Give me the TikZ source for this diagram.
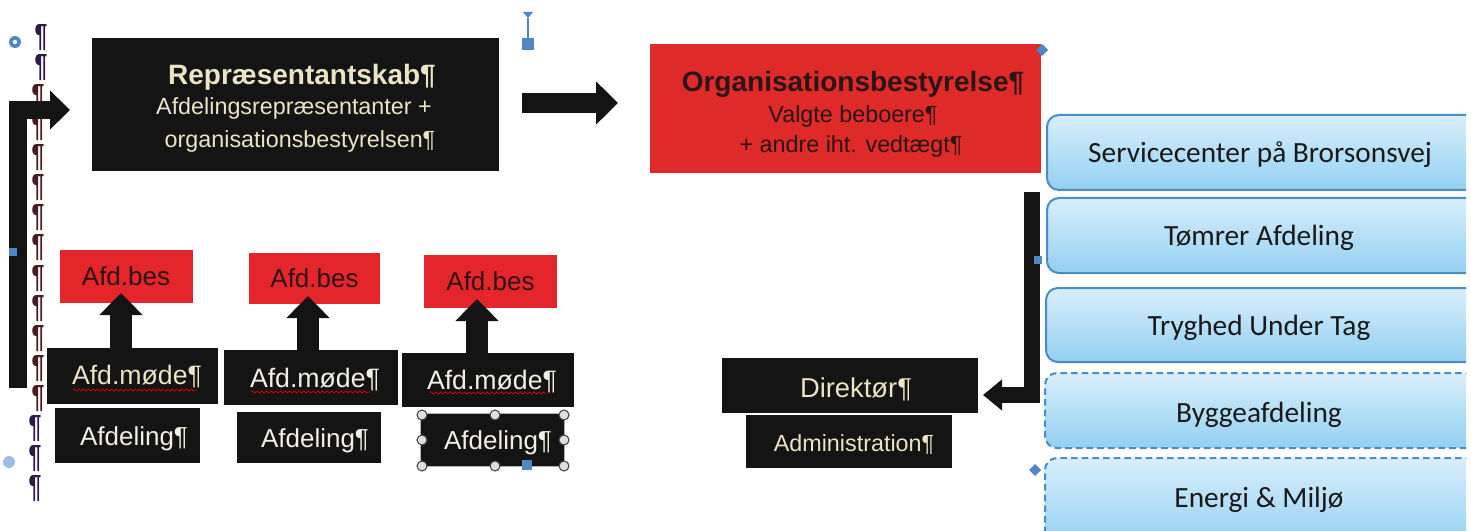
\documentclass[tikz,border=0pt]{standalone}
\usepackage{fontspec}
\setmainfont{Liberation Sans}
\newfontfamily\calibri{Carlito}
\usetikzlibrary{arrows.meta,fit,decorations.pathmorphing,calc}
\definecolor{boxblack}{HTML}{141414}
\definecolor{cream}{HTML}{EAE3C5}
\definecolor{offwhite}{HTML}{F2EFE6}
\definecolor{orgred}{HTML}{DF2A2A}
\definecolor{besred}{HTML}{E4262C}
\definecolor{redtext}{HTML}{2B1414}
\definecolor{blueline}{HTML}{4A8CC8}
\definecolor{bluetop}{HTML}{D9EFFB}
\definecolor{bluebot}{HTML}{93D0F1}
\definecolor{pilpurple}{HTML}{2D1B46}
\definecolor{pilbrown}{HTML}{4A1C22}
\definecolor{marker}{HTML}{4F86C6}
\begin{document}
\begin{tikzpicture}[x=0.75pt,y=-0.75pt,
  box/.style={inner sep=0pt, outer sep=0pt},
  blackbox/.style={box, fill=boxblack},
  besbox/.style={box, fill=besred},
  orgbox/.style={box, fill=orgred},
  bluebox/.style={box, draw=blueline, line width=1.5pt, rounded corners=9pt, top color=bluetop, bottom color=bluebot},
  dashedbluebox/.style={bluebox, dash pattern=on 5pt off 3pt},
  lbl/.style={anchor=base, inner sep=0pt, outer sep=0pt},
  titlefont/.style={font=\fontsize{21}{25}\selectfont\bfseries},
  subfont/.style={font=\fontsize{17.5}{21}\selectfont},
  smallfont/.style={font=\fontsize{19.5}{23}\selectfont},
  bluefont/.style={font=\calibri\fontsize{22}{26}\selectfont, text=black!90},
  pil/.style={anchor=base, inner sep=0pt, font=\fontsize{24}{28}\selectfont\bfseries},
  blockarrow/.style={draw=boxblack, line cap=butt, line join=miter},
  squiggle/.style={draw=red!75!black, line width=0.7pt, decorate, decoration={snake, segment length=3.5pt, amplitude=0.8pt}},
  handle/.style={circle, fill=gray!25, draw=gray!55!black, line width=0.8pt, minimum size=7.5pt, inner sep=0pt},
  mk/.style={fill=marker}
]
\useasboundingbox (0,0) rectangle (1471,531);

% pilcrow column
\foreach \k in {0,1} {\node[pil, text=pilpurple] (pil\k) at (41,{47+30*\k}) {\scalebox{0.72}[1]{¶}};}
\foreach \k in {2,...,12} {\node[pil, text=pilbrown] (pil\k) at (38,{47+30*\k}) {\scalebox{0.72}[1]{¶}};}
\foreach \k in {13,14,15} {\node[pil, text=pilpurple] (pil\k) at (35,{47+30*\k}) {\scalebox{0.72}[1]{¶}};}

% top boxes
\node[blackbox, fit={(92,38)(499,171)}] (rep) {};
\node[lbl, titlefont, text=cream] (rep1) at (302,85) {Repræsentantskab¶};
\node[lbl, subfont, text=cream] (rep2) at (294,115) {Afdelingsrepræsentanter +};
\node[lbl, subfont, text=cream] (rep3) at (300,148) {organisationsbestyrelsen¶};

\node[orgbox, fit={(650,44)(1041,173)}] (org) {};
\node[lbl, titlefont, text=redtext] (org1) at (853,92) {Organisationsbestyrelse¶};
\node[lbl, subfont, text=redtext] (org2) at (853,123) {Valgte beboere¶};
\node[lbl, subfont, text=redtext] (org3) at (851,153) {+ andre iht. vedtægt¶};

% department columns
\node[besbox, fit={(60,250)(193,303)}] (bes1) {};
\node[besbox, fit={(249,253)(380,304)}] (bes2) {};
\node[besbox, fit={(424,255)(557,308)}] (bes3) {};
\node[lbl, smallfont, text=redtext] (bes1t) at (126,285) {Afd.bes};
\node[lbl, smallfont, text=redtext] (bes2t) at (314.5,287) {Afd.bes};
\node[lbl, smallfont, text=redtext] (bes3t) at (490.5,290) {Afd.bes};

\node[blackbox, fit={(47,348)(218,404)}] (moede1) {};
\node[blackbox, fit={(224,350)(398,405)}] (moede2) {};
\node[blackbox, fit={(402,353)(574,407)}] (moede3) {};
\node[lbl, font=\fontsize{20}{24}\selectfont, text=cream] (moede1t) at (137,384) {Afd.møde¶};
\node[lbl, font=\fontsize{20}{24}\selectfont, text=offwhite] (moede2t) at (315,387) {Afd.møde¶};
\node[lbl, font=\fontsize{20}{24}\selectfont, text=offwhite] (moede3t) at (492,389) {Afd.møde¶};
\draw[squiggle] (73,390) -- (197,390);
\draw[squiggle] (251,392) -- (370,392);
\draw[squiggle] (430,393) -- (547,393);

\node[blackbox, fit={(55,408)(200,463)}] (afd1) {};
\node[blackbox, fit={(237,412)(381,463)}] (afd2) {};
\node[blackbox, draw=gray!60, line width=0.6pt, fit={(420,413)(564,466)}] (afd3) {};
\node[lbl, smallfont, text=offwhite] (afd1t) at (134,445) {Afdeling¶};
\node[lbl, smallfont, text=offwhite] (afd2t) at (315,447) {Afdeling¶};
\node[lbl, smallfont, text=offwhite] (afd3t) at (498,449) {Afdeling¶};
\foreach \hx/\hy [count=\i] in {422/415,495/415,564/415,422/440,564/440,422/466,495/466,564/466}
  {\node[handle] (h\i) at (\hx,\hy) {};}

% right side
\node[blackbox, fit={(722,358)(978,413)}] (dir) {};
\node[lbl, font=\fontsize{20.5}{24}\selectfont, text=cream] (dirt) at (856,397) {Direktør¶};
\node[blackbox, fit={(746,415)(952,468)}] (adm) {};
\node[lbl, subfont, text=cream] (admt) at (854,451) {Administration¶};

\begin{scope}
\clip (0,0) rectangle (1466,531);
\node[bluebox, fit={(1047,115)(1495,190)}] (b1) {};
\node[bluebox, fit={(1047,198)(1495,273)}] (b2) {};
\node[bluebox, fit={(1046,288)(1495,362)}] (b3) {};
\node[dashedbluebox, fit={(1045,373)(1495,448)}] (b4) {};
\node[dashedbluebox, fit={(1045,458)(1495,545)}] (b5) {};
\end{scope}
\node[lbl, bluefont] (b1t) at (1260,163) {Servicecenter på Brorsonsvej};
\node[lbl, bluefont] (b2t) at (1259,245) {Tømrer Afdeling};
\node[lbl, bluefont] (b3t) at (1259,335) {Tryghed Under Tag};
\node[lbl, bluefont] (b4t) at (1259,422) {Byggeafdeling};
\node[lbl, bluefont] (b5t) at (1259,507) {Energi \& Miljø};

% connectors (block arrows)
\coordinate (ra) at (522,103);
\coordinate (rb) at (618,103);
\draw[blockarrow, line width=15pt, -{Triangle[length=16.5pt,width=31.5pt]}] (ra) -- (rb);

\coordinate (lb) at (17.5,388);
\coordinate (lt) at (70,110);
\draw[blockarrow, line width=13.5pt, -{Triangle[length=15pt,width=28.5pt]}] (lb) -- (lb |- lt) -- (lt);

\coordinate (eb) at (1031.5,192);
\coordinate (et) at (983,395);
\draw[blockarrow, line width=12pt, -{Triangle[length=14.25pt,width=22.5pt]}] (eb) -- (eb |- et) -- (et);

\coordinate (u1) at (121,293);
\coordinate (u2) at (308,296);
\coordinate (u3) at (477,299);
\draw[blockarrow, line width=16.5pt, -{Triangle[length=16.5pt,width=31.5pt]}] (u1 |- moede1.north) -- (u1);
\draw[blockarrow, line width=16.5pt, -{Triangle[length=16.5pt,width=31.5pt]}] (u2 |- moede2.north) -- (u2);
\draw[blockarrow, line width=16.5pt, -{Triangle[length=16.5pt,width=31.5pt]}] (u3 |- moede3.north) -- (u3);

% editor markers
\fill[mk] (15,42) circle (4.5pt);
\fill[white] (15,42) circle (1.6pt);
\fill[mk] (9,248) rectangle (17,256);
\fill[marker!55] (9,462) circle (4.5pt);
\fill[mk] (523,12) -- (533,12) -- (528,18) -- cycle;
\draw[marker, line width=1pt] (528,18) -- (528,38);
\fill[mk] (522,38) rectangle (534,50);
\fill[mk] (1042,44) -- (1048,50) -- (1042,56) -- (1036,50) -- cycle;
\fill[mk] (1034,256) rectangle (1042,264);
\fill[mk] (1035,464) -- (1041,470) -- (1035,476) -- (1029,470) -- cycle;
\fill[mk] (522,460) rectangle (532,470);
\end{tikzpicture}
\end{document}
